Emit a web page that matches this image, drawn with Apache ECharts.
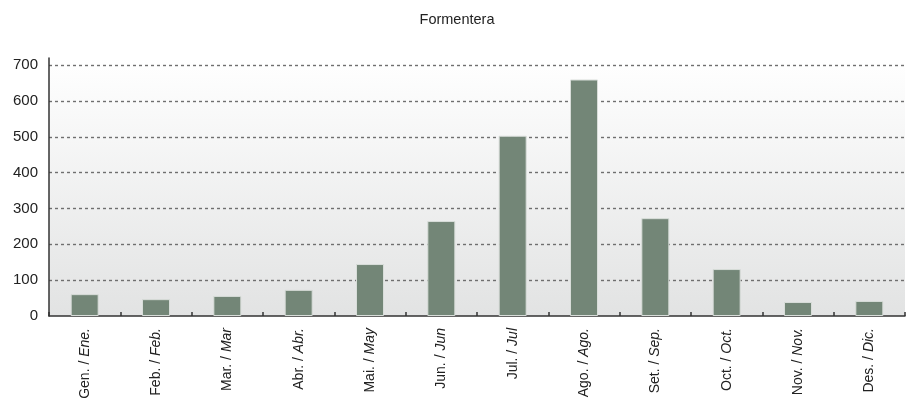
<!DOCTYPE html>
<html><head><meta charset="utf-8">
<script src="https://cdn.jsdelivr.net/npm/echarts@6/dist/echarts.min.js"></script>
<style>html,body{margin:0;padding:0;background:#fff}#c{width:914px;height:408px}</style>
</head><body><div id="c"></div>
<script>
const catCa = ['Gen.','Feb.','Mar.','Abr.','Mai.','Jun.','Jul.','Ago.','Set.','Oct.','Nov.','Des.'];
const catEs = ['Ene.','Feb.','Mar','Abr.','May','Jun','Jul','Ago.','Sep.','Oct.','Nov.','Dic.'];
const values = [61, 47, 56, 73, 145, 265, 503, 660, 273, 131, 39, 42];
const yTicks = [0, 100, 200, 300, 400, 500, 600, 700];

const cats = catCa.map((c, i) => c + '|' + catEs[i]);
const chart = echarts.init(document.getElementById('c'));
chart.setOption({
  animation: false,
  title: { text: 'Formentera', left: 'center', top: 7,
    textStyle: { fontFamily: 'Liberation Sans', fontSize: 14.5, fontWeight: 'normal', color: '#222' } },
  grid: { left: 49, right: 9, top: 58, bottom: 92, show: true, borderWidth: 0,
    backgroundColor: new echarts.graphic.LinearGradient(0, 0, 0, 1, [
      { offset: 0, color: '#ffffff' }, { offset: 1, color: '#e2e3e3' }]) },
  xAxis: {
    type: 'category', data: cats,
    axisLine: { lineStyle: { color: '#333', width: 1.5 } },
    axisTick: { show: true, inside: true, length: 4, lineStyle: { color: '#333', width: 1.5 } },
    axisLabel: {
      rotate: 90, margin: 12, interval: 0,
      formatter: v => { const p = v.split('|'); return '{a|' + p[0] + ' / }{b|' + p[1] + '}'; },
      rich: {
        a: { fontFamily: 'Liberation Sans', fontSize: 14, color: '#222' },
        b: { fontFamily: 'Liberation Sans', fontSize: 14, fontStyle: 'italic', color: '#222' }
      }
    }
  },
  yAxis: {
    type: 'value', min: yTicks[0], max: 720, interval: 100,
    axisLine: { show: true, lineStyle: { color: '#333', width: 1.5 } },
    axisTick: { show: false },
    axisLabel: { showMaxLabel: false, margin: 11, fontFamily: 'Liberation Sans', fontSize: 15, color: '#222' },
    splitLine: { show: true, showMinLine: false, showMaxLine: false,
      lineStyle: { type: [3, 3], color: '#6f6f6f', width: 1.4 } }
  },
  series: [{
    type: 'bar', data: values, barWidth: 28,
    itemStyle: { color: '#738677', borderColor: '#d8ddd9', borderWidth: 1 }
  }]
});
</script></body></html>
